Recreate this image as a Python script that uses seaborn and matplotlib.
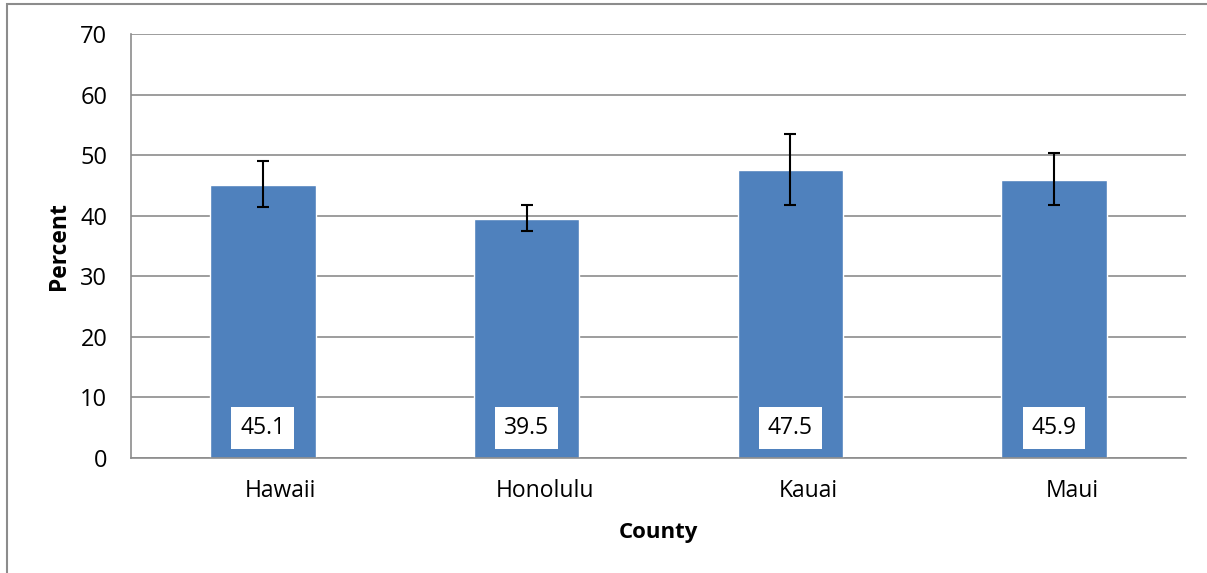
import matplotlib
matplotlib.use("Agg")
import matplotlib.pyplot as plt
import matplotlib.transforms as mtransforms
import seaborn as sns
import pandas as pd
import numpy as np
from matplotlib.patches import Rectangle

# data
counties = ["Hawaii", "Honolulu", "Kauai", "Maui"]
percent = [45.1, 39.5, 47.5, 45.9]
ci_low = [41.5, 37.5, 41.7, 41.7]
ci_high = [49.0, 41.8, 53.5, 50.3]

df = pd.DataFrame({"County": counties, "Percent": percent})

sns.set_style("white")
plt.rcParams["font.family"] = ["Open Sans", "DejaVu Sans"]
plt.rcParams["text.color"] = "black"
plt.rcParams["axes.labelcolor"] = "black"

fig = plt.figure(figsize=(12.07, 5.73), dpi=100)
ax = fig.add_axes([0.1085, 0.2007, 0.874, 0.74])

sns.barplot(x="County", y="Percent", data=df, color="#4F81BD", width=0.4,
            saturation=1, ax=ax)

# confidence intervals
x = np.arange(len(counties))
yerr = [np.array(percent) - np.array(ci_low), np.array(ci_high) - np.array(percent)]
ax.errorbar(x, percent, yerr=yerr, fmt="none", ecolor="black",
            elinewidth=1.5, capsize=4.3, capthick=1.5, zorder=5)

# value labels in white boxes near the bottom of each bar
for i, v in enumerate(percent):
    ax.text(i, 4.95, f"{v}", ha="center", va="center", fontsize=16.5,
            color="black",
            bbox=dict(facecolor="white", edgecolor="none", pad=6.5), zorder=6)

ax.set_ylim(0, 70)
ax.set_xlim(-0.5, len(counties) - 0.5)
ax.set_yticks(range(0, 80, 10))
ax.yaxis.grid(True, color="#8c8c8c", linewidth=1.2)
ax.set_axisbelow(True)

# x ticks between categories, labels at the centres (shifted a bit right, as in the original)
ax.set_xticks(np.arange(-0.5, len(counties), 1), minor=True)
ax.tick_params(axis="x", which="major", length=0, labelsize=16.5, pad=15,
               labelcolor="black")
ax.tick_params(axis="x", which="minor", length=7, color="#8c8c8c", width=1.2)
ax.tick_params(axis="y", length=7, color="#8c8c8c", width=1.2, labelsize=17, pad=10,
               labelcolor="black")
shift = mtransforms.ScaledTranslation(0.18, 0, fig.dpi_scale_trans)
for lbl in ax.get_xticklabels():
    lbl.set_transform(lbl.get_transform() + shift)

for s in ["top", "right"]:
    ax.spines[s].set_visible(False)
for s in ["left", "bottom"]:
    ax.spines[s].set_color("#8c8c8c")
    ax.spines[s].set_linewidth(1.2)

ax.set_xlabel("County", fontsize=16, fontweight="bold", labelpad=14)
ax.set_ylabel("Percent", fontsize=16.5, fontweight="bold", labelpad=7)

# outer chart border (cropped at right and bottom)
fig.patches.append(Rectangle((7 / 1207, -0.1), 1.2, 1.1 - 4 / 573,
                             transform=fig.transFigure, fill=False,
                             edgecolor="#8c8c8c", linewidth=1.5))

fig.savefig("out.png", dpi=100)
